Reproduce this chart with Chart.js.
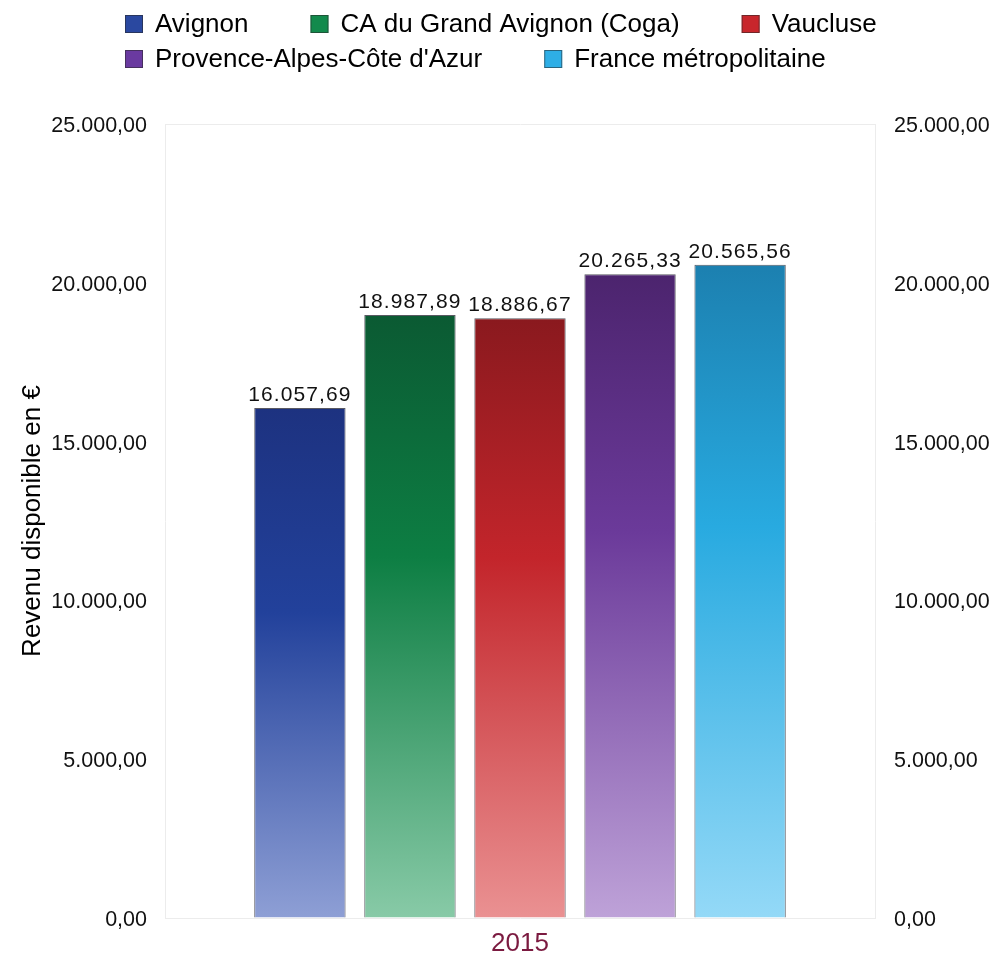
<!DOCTYPE html>
<html lang="fr">
<head>
<meta charset="utf-8">
<title>Revenu disponible 2015</title>
<script src="https://cdn.jsdelivr.net/npm/chart.js@4.4.1/dist/chart.umd.min.js"></script>
<style>
  html, body { margin: 0; padding: 0; background: #fff; }
  #cadre { width: 995px; height: 960px; }
</style>
</head>
<body>
<div id="cadre"><canvas id="graphique"></canvas></div>
<script>
// Données
const annees = ["2015"];
const territoires = ["Avignon", "CA du Grand Avignon (Coga)", "Vaucluse", "Provence-Alpes-Côte d'Azur", "France métropolitaine"];
const revenus = [16057.69, 18987.89, 18886.67, 20265.33, 20565.56];
const yMin = 0;
const yMax = 25000;
const yPas = 5000;

// Couleurs du dégradé (haut, milieu, bas) et de la légende
const couleursHaut = ["#1d3280", "#0b5a33", "#8a191e", "#4c246e", "#1c80b0"];
const couleursMilieu = ["#22419b", "#0d7e43", "#c3252b", "#6b3a9a", "#28aae0"];
const couleursBas = ["#8e9fd5", "#88caa7", "#ea9192", "#bea2d8", "#94d9f7"];
const couleursLegende = ["#2a48a0", "#128a4c", "#c8262c", "#6a3aa0", "#2eaee6"];

// Format français : 20.565,56
function formatFr(v) {
  const [ent, dec] = Math.abs(v).toFixed(2).split(".");
  return ent.replace(/\B(?=(\d{3})+(?!\d))/g, ".") + "," + dec;
}

// Dégradé vertical pour chaque barre
function degrade(i) {
  return function (context) {
    const { ctx, chartArea, scales } = context.chart;
    if (!chartArea || !scales.y) return couleursMilieu[i];
    const haut = scales.y.getPixelForValue(revenus[i]);
    const bas = scales.y.getPixelForValue(0);
    const g = ctx.createLinearGradient(0, haut, 0, bas);
    g.addColorStop(0, couleursHaut[i]);
    g.addColorStop(0.4, couleursMilieu[i]);
    g.addColorStop(1, couleursBas[i]);
    return g;
  };
}

// Légende en haut (lignes alignées à gauche)
const legendeHaut = {
  id: "legendeHaut",
  afterDraw(chart) {
    const ctx = chart.ctx;
    const debut = 125, limite = 905, ecart = 62;
    const lignes = [32, 67];
    let x = debut, ligne = 0;
    ctx.save();
    ctx.font = '26px "Liberation Sans", Arial, sans-serif';
    ctx.textBaseline = "alphabetic";
    territoires.forEach((nom, i) => {
      const largeur = 30 + ctx.measureText(nom).width;
      if (x > debut && x + largeur > limite) { x = debut; ligne++; }
      const y = lignes[ligne] || lignes[lignes.length - 1] + 35 * (ligne - 1);
      ctx.fillStyle = couleursLegende[i];
      ctx.fillRect(x, y - 17, 18, 18);
      ctx.strokeStyle = "rgba(40,40,40,0.55)";
      ctx.lineWidth = 1;
      ctx.strokeRect(x + 0.5, y - 16.5, 17, 17);
      ctx.fillStyle = "#000";
      ctx.fillText(nom, x + 30, y);
      x += largeur + ecart;
    });
    ctx.restore();
  }
};

// Valeurs au-dessus des barres
const etiquettesValeurs = {
  id: "etiquettesValeurs",
  afterDatasetsDraw(chart) {
    const ctx = chart.ctx;
    ctx.save();
    ctx.font = '21px "Liberation Sans", Arial, sans-serif';
    ctx.letterSpacing = "1.1px";
    ctx.fillStyle = "#111";
    ctx.textAlign = "center";
    ctx.textBaseline = "alphabetic";
    chart.data.datasets.forEach((ds, i) => {
      const barre = chart.getDatasetMeta(i).data[0];
      ctx.fillText(formatFr(ds.data[0]), barre.x, barre.y - 7);
    });
    ctx.restore();
  }
};

const policeAxe = { family: '"Liberation Sans", Arial, sans-serif', size: 21.5 };

new Chart(document.getElementById("graphique"), {
  type: "bar",
  data: {
    labels: annees,
    datasets: territoires.map((nom, i) => ({
      label: nom,
      data: [revenus[i]],
      backgroundColor: degrade(i),
      borderColor: "rgba(60,60,70,0.85)",
      borderWidth: 1,
      yAxisID: "y"
    }))
  },
  options: {
    responsive: true,
    maintainAspectRatio: false,
    animation: false,
    categoryPercentage: 0.775,
    barPercentage: 0.83,
    layout: { padding: { top: 124, left: 17, right: 6, bottom: 0 } },
    plugins: {
      legend: { display: false },
      tooltip: { enabled: false }
    },
    scales: {
      x: {
        grid: { display: false, drawTicks: false },
        border: { display: true, color: "#ececec" },
        ticks: { color: "#7b1a40", font: { family: policeAxe.family, size: 26, lineHeight: 1 }, padding: 13 },
        afterFit: s => { s.height = 42; }
      },
      y: {
        position: "left",
        min: yMin,
        max: yMax,
        grid: {
          drawTicks: false,
          color: ctx => (ctx.tick && ctx.tick.value === yMax ? "#ececec" : "rgba(0,0,0,0)")
        },
        border: { display: true, color: "#ececec" },
        ticks: {
          stepSize: yPas,
          color: "#111",
          font: policeAxe,
          padding: 18,
          labelOffset: 2,
          callback: v => formatFr(v)
        },
        title: {
          display: true,
          text: "Revenu disponible en €",
          color: "#000",
          font: { family: policeAxe.family, size: 26 },
          padding: { top: 0, bottom: 4 }
        },
        afterFit: s => { s.width = 148; }
      },
      y2: {
        position: "right",
        min: yMin,
        max: yMax,
        grid: { display: false, drawTicks: false },
        border: { display: true, color: "#ececec" },
        ticks: {
          stepSize: yPas,
          color: "#111",
          font: policeAxe,
          padding: 19,
          labelOffset: 2,
          callback: v => formatFr(v)
        },
        afterFit: s => { s.width = 114; }
      }
    }
  },
  plugins: [legendeHaut, etiquettesValeurs]
});
</script>
</body>
</html>
